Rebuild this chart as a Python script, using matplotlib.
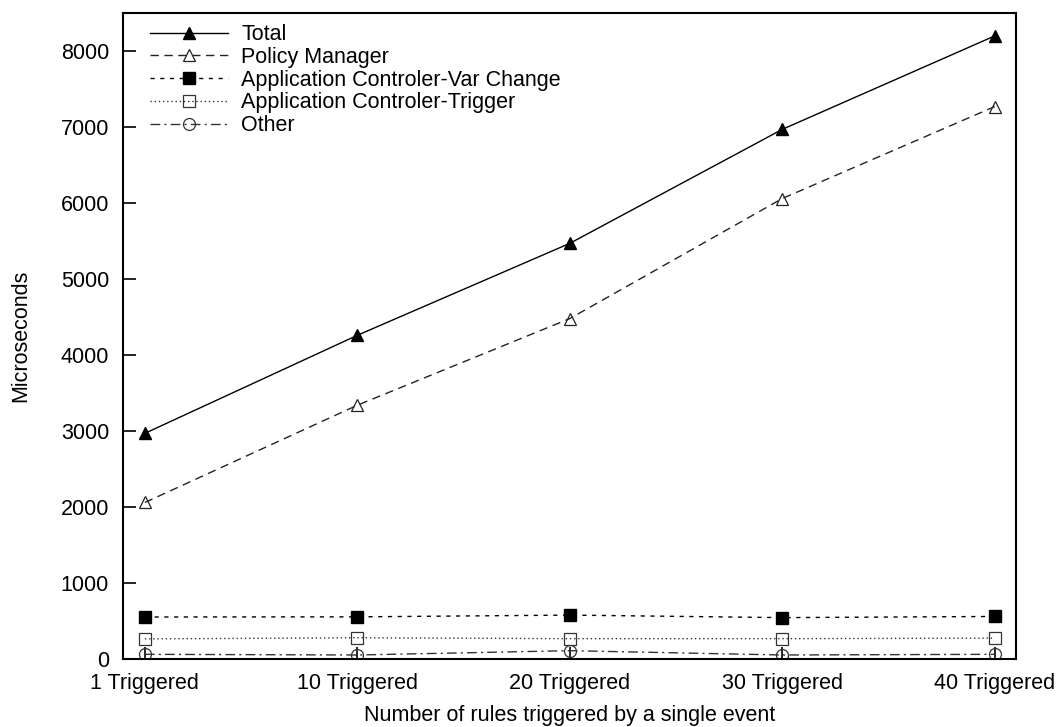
import matplotlib as mpl

mpl.use("Agg")
import matplotlib.pyplot as plt
import numpy as np

plt.rcParams["font.family"] = ["Liberation Sans", "DejaVu Sans"]
plt.rcParams["font.size"] = 15.5

categories = ["1 Triggered", "10 Triggered", "20 Triggered", "30 Triggered", "40 Triggered"]
total = [2970, 4260, 5470, 6970, 8200]
policy_manager = [2060, 3340, 4480, 6060, 7270]
var_change = [553, 555, 578, 545, 560]
trigger = [265, 280, 268, 268, 275]
other = [62, 53, 110, 53, 62]

x = np.arange(len(categories))

fig = plt.figure(figsize=(10.64, 7.27), dpi=100)
ax = fig.add_axes([0.1156, 0.0935, 0.8393, 0.8885])

lw = 1.0
ax.plot(x, total, color="black", linestyle="-", linewidth=lw,
        marker="^", markersize=8, markerfacecolor="black", markeredgecolor="black",
        label="Total")
ax.plot(x, policy_manager, color="#222222", linestyle=(0, (6, 4)), linewidth=lw,
        marker="^", markersize=8, markerfacecolor="none", markeredgecolor="#222222",
        markeredgewidth=0.9, label="Policy Manager")
ax.plot(x, var_change, color="black", linestyle=(0, (3, 4)), linewidth=lw,
        marker="s", markersize=8.6, markerfacecolor="black", markeredgecolor="black",
        label="Application Controler-Var Change")
ax.plot(x, trigger, color="#333333", linestyle=(0, (1, 2)), linewidth=lw,
        marker="s", markersize=8.6, markerfacecolor="none", markeredgecolor="#333333",
        markeredgewidth=0.9, label="Application Controler-Trigger")
ax.plot(x, other, color="#333333", linestyle=(0, (7, 3, 1.5, 3)), linewidth=lw,
        marker="o", markersize=8.6, markerfacecolor="none", markeredgecolor="#333333",
        markeredgewidth=0.9, label="Other")

ax.set_xlim(-0.103, 4.1)
ax.set_ylim(0, 8500)
ax.set_xticks(x)
ax.set_xticklabels(categories)
ax.set_yticks(np.arange(0, 8001, 1000))
ax.tick_params(direction="in", length=9, width=1.2, top=False, right=False)
ax.tick_params(axis="x", pad=10)
ax.tick_params(axis="y", pad=10)
for spine in ax.spines.values():
    spine.set_linewidth(1.5)

ax.set_xlabel("Number of rules triggered by a single event", labelpad=8)
ax.set_ylabel("Microseconds", labelpad=21)

ax.legend(loc="upper left", bbox_to_anchor=(0.0206, 0.996), borderaxespad=0,
          frameon=False, handlelength=3.6, handletextpad=0.65,
          labelspacing=0.08)

fig.savefig("out.png", dpi=100)
plt.close(fig)
